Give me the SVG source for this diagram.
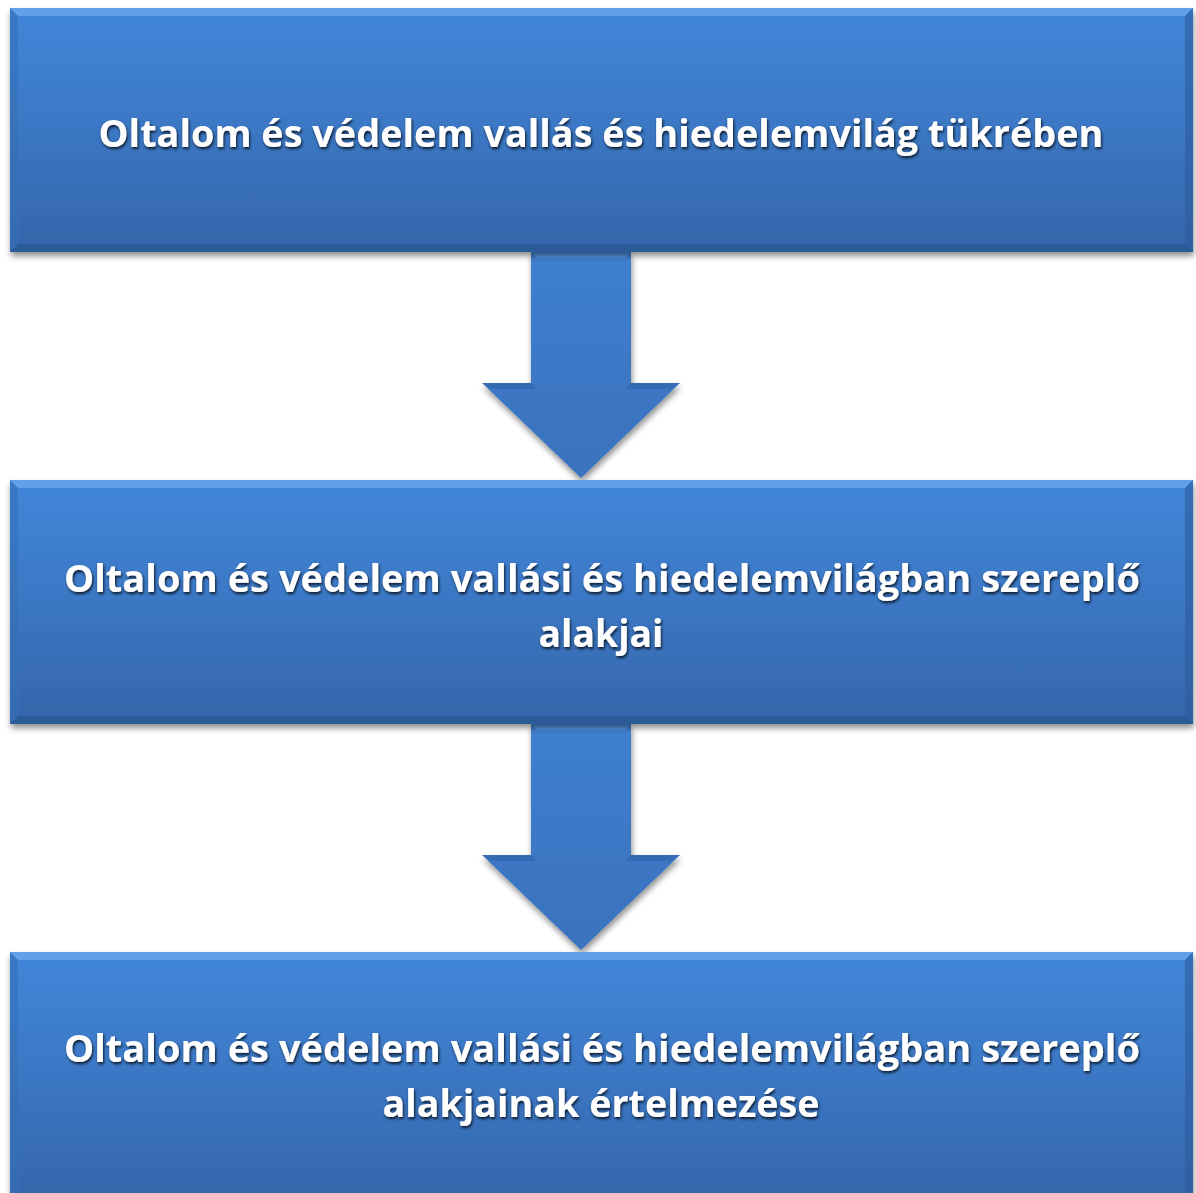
<svg xmlns="http://www.w3.org/2000/svg" width="1196" height="1193" viewBox="0 0 1196 1193">
<defs>
<linearGradient id="boxg" x1="0" y1="0" x2="0" y2="1">
<stop offset="0" stop-color="#4286d9"/>
<stop offset="0.5" stop-color="#3b77c4"/>
<stop offset="1" stop-color="#3466aa"/>
</linearGradient>
<linearGradient id="arrg" x1="0" y1="0" x2="0" y2="1">
<stop offset="0" stop-color="#3f7fd0"/>
<stop offset="1" stop-color="#3a72bd"/>
</linearGradient>
<filter id="shadow" x="-5%" y="-5%" width="110%" height="115%">
<feGaussianBlur in="SourceAlpha" stdDeviation="3"/>
<feOffset dx="1" dy="4" result="b"/>
<feComponentTransfer><feFuncA type="linear" slope="0.45"/></feComponentTransfer>
<feMerge><feMergeNode/><feMergeNode in="SourceGraphic"/></feMerge>
</filter>
<filter id="tshadow" x="-5%" y="-30%" width="110%" height="160%">
<feGaussianBlur in="SourceAlpha" stdDeviation="1.5"/>
<feOffset dx="1" dy="2" result="b"/>
<feComponentTransfer><feFuncA type="linear" slope="0.8"/></feComponentTransfer>
<feMerge><feMergeNode/><feMergeNode in="SourceGraphic"/></feMerge>
</filter>
</defs>
<style>
.box{fill:url(#boxg);}
.hl{fill:#6aa8ee;opacity:0.8;}
.dk{fill:#2a5590;opacity:0.7;}
.lbl{font-family:"Open Sans","Liberation Sans",sans-serif;font-weight:bold;font-size:38px;fill:#ffffff;text-anchor:middle;}
.arrow{fill:url(#arrg);}
</style>
<rect width="1196" height="1193" fill="#ffffff"/>
<g id="connectors">
<g id="arrow1" filter="url(#shadow)">
<polygon class="arrow" points="531,252 631,252 631,383 680,383 581,478 482,383 531,383"/>
<polygon fill="#5c9be6" opacity="0.7" points="531,252 631,252 625,258 537,258"/>
<polygon fill="#2f609f" opacity="0.5" points="482,383 531,383 537,389 492,389"/>
<polygon fill="#2f609f" opacity="0.5" points="631,383 680,383 670,389 625,389"/>
</g>
<g id="arrow2" filter="url(#shadow)">
<polygon class="arrow" points="531,724 631,724 631,855 680,855 581,950 482,855 531,855"/>
<polygon fill="#5c9be6" opacity="0.7" points="531,724 631,724 625,730 537,730"/>
<polygon fill="#2f609f" opacity="0.5" points="482,855 531,855 537,861 492,861"/>
<polygon fill="#2f609f" opacity="0.5" points="631,855 680,855 670,861 625,861"/>
</g>
</g>
<g id="node1" filter="url(#shadow)">
<rect class="box" x="10" y="8" width="1183" height="244"/>
<polygon class="hl" points="10,8 1193,8 1185,16 18,16"/>
<polygon class="dk" points="10,252 1193,252 1185,244 18,244"/>
<polygon fill="#3670b8" opacity="0.6" points="10,8 18,16 18,244 10,252"/>
<polygon fill="#2d5c9c" opacity="0.6" points="1193,8 1185,16 1185,244 1193,252"/>
<text class="lbl" x="601" y="147" textLength="1005" lengthAdjust="spacingAndGlyphs" filter="url(#tshadow)">Oltalom és védelem vallás és hiedelemvilág tükrében</text>
</g>
<g id="node2" filter="url(#shadow)">
<rect class="box" x="10" y="480" width="1183" height="244"/>
<polygon class="hl" points="10,480 1193,480 1185,488 18,488"/>
<polygon class="dk" points="10,724 1193,724 1185,716 18,716"/>
<polygon fill="#3670b8" opacity="0.6" points="10,480 18,488 18,716 10,724"/>
<polygon fill="#2d5c9c" opacity="0.6" points="1193,480 1185,488 1185,716 1193,724"/>
<text class="lbl" x="602" y="592" textLength="1076" lengthAdjust="spacingAndGlyphs" filter="url(#tshadow)">Oltalom és védelem vallási és hiedelemvilágban szereplő</text>
<text class="lbl" x="601" y="647" textLength="125" lengthAdjust="spacingAndGlyphs" filter="url(#tshadow)">alakjai</text>
</g>
<g id="node3" filter="url(#shadow)">
<rect class="box" x="10" y="952" width="1183" height="250"/>
<polygon class="hl" points="10,952 1193,952 1185,960 18,960"/>
<polygon fill="#3670b8" opacity="0.6" points="10,952 18,960 18,1193 10,1193"/>
<polygon fill="#2d5c9c" opacity="0.6" points="1193,952 1185,960 1185,1193 1193,1193"/>
<text class="lbl" x="602" y="1062" textLength="1076" lengthAdjust="spacingAndGlyphs" filter="url(#tshadow)">Oltalom és védelem vallási és hiedelemvilágban szereplő</text>
<text class="lbl" x="601" y="1117" textLength="437" lengthAdjust="spacingAndGlyphs" filter="url(#tshadow)">alakjainak értelmezése</text>
</g>
</svg>
